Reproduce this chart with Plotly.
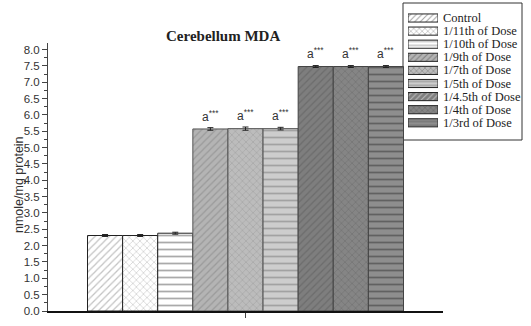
import plotly.graph_objects as go

categories = ["Cerebellum MDA"]
groups = ["Control", "1/11th of Dose", "1/10th of Dose", "1/9th of Dose", "1/7th of Dose",
          "1/5th of Dose", "1/4.5th of Dose", "1/4th of Dose", "1/3rd of Dose"]
values = [2.31, 2.31, 2.38, 5.57, 5.58, 5.58, 7.48, 7.48, 7.48]
errors = [0.03, 0.03, 0.03, 0.04, 0.05, 0.04, 0.03, 0.03, 0.03]
marks = ["", "", "", "a***", "a***", "a***", "a***", "a***", "a***"]

shapes = ["/", "x", "-", "/", "x", "-", "/", "x", "-"]
bgcols = ["#ffffff", "#ffffff", "#ffffff", "#b4b4b4", "#bcbcbc", "#cdcdcd", "#7e7e7e", "#858585", "#8e8e8e"]
fgcols = ["#888888", "#999999", "#555555", "#808080", "#909090", "#777777", "#5a5a5a", "#606060", "#333333"]
lines = ["#222222", "#222222", "#222222", "#555555", "#555555", "#555555", "#444444", "#444444", "#444444"]

W, H = 531, 326
L, R, T, B = 48, 88, 3, 15
PW, PH = W - L - R, H - T - B


def px(p):
    return (p - L) / PW


def py(p):
    return (H - B - p) / PH


fig = go.Figure()
for i, g in enumerate(groups):
    fig.add_trace(go.Bar(
        x=categories, y=[values[i]], name=g, showlegend=False,
        marker=dict(color=bgcols[i], line=dict(color=lines[i], width=1),
                    pattern=dict(shape=shapes[i], fgcolor=fgcols[i], bgcolor=bgcols[i],
                                 size=5 if shapes[i] != "-" else 7, solidity=0.25)),
        error_y=dict(type="data", array=[errors[i]], color="#222222", thickness=1, width=3),
    ))

# legend swatches as a small inset bar chart
fig.add_trace(go.Bar(
    y=groups, x=[1] * len(groups), orientation="h", xaxis="x2", yaxis="y2",
    width=0.62, showlegend=False, hoverinfo="skip",
    marker=dict(color=bgcols, line=dict(color="#222222", width=1),
                pattern=dict(shape=shapes, fgcolor=fgcols, bgcolor=bgcols, size=4, solidity=0.25)),
))

n = len(groups)
bw = 0.8 / n
for i, m in enumerate(marks):
    if m:
        fig.add_annotation(x=-0.4 + bw * (i + 0.5), y=values[i] + 0.1, xref="x", yref="y",
                           text="a<sup>***</sup>", showarrow=False, yanchor="bottom",
                           font=dict(family="Liberation Sans, Arial", size=12, color="#333333"))

# legend labels
row0, step = 18, 13.1
for i, g in enumerate(groups):
    fig.add_annotation(x=px(441), y=py(row0 + i * step), xref="paper", yref="paper",
                       text=g, showarrow=False, xanchor="left", yanchor="middle",
                       font=dict(family="Liberation Serif, Times New Roman", size=12.5, color="#222222"))

fig.add_shape(type="rect", xref="paper", yref="paper",
              x0=px(403), x1=px(522), y0=py(140), y1=py(3),
              line=dict(color="#333333", width=1), fillcolor="rgba(0,0,0,0)", layer="below")

fig.add_annotation(x=px(223), y=py(26), xref="paper", yref="paper",
                   text="<b>Cerebellum MDA</b>", showarrow=False,
                   font=dict(family="Liberation Serif, Times New Roman", size=15, color="#222222"))
fig.add_annotation(x=px(10), y=py(185), xref="paper", yref="paper",
                   text="nmole/mg protein", showarrow=False, textangle=-90,
                   font=dict(family="Liberation Sans, Arial", size=12.5, color="#333333"))

fig.update_layout(
    width=W, height=H,
    margin=dict(l=L, r=R, t=T, b=B),
    paper_bgcolor="white", plot_bgcolor="rgba(0,0,0,0)",
    barmode="group", bargap=0.2, bargroupgap=0,
    showlegend=False,
    xaxis=dict(range=[-0.5, 0.5], showticklabels=False, ticks="outside", ticklen=5,
               tickcolor="#444444", showline=True, linecolor="#111111", linewidth=1.5,
               showgrid=False, zeroline=False, fixedrange=True),
    yaxis=dict(domain=[0, py(43)], range=[0, 8.2], dtick=0.5, tick0=0, tickformat=".1f",
               ticks="outside", ticklen=5,
               tickcolor="#444444", showline=True, linecolor="#444444", linewidth=1,
               showgrid=False, zeroline=False,
               tickfont=dict(family="Liberation Sans, Arial", size=11.5, color="#333333"),
               minor=dict(dtick=0.25, ticks="outside", ticklen=3, tickcolor="#444444")),
    xaxis2=dict(domain=[px(408), px(438)], range=[0, 1], anchor="y2", visible=False,
                showticklabels=False, fixedrange=True),
    yaxis2=dict(domain=[py(row0 + (n - 0.5) * step), py(row0 - 0.5 * step)], anchor="x2",
                autorange="reversed", visible=False, showticklabels=False, fixedrange=True,
                type="category"),
)

fig.write_html("out.html")
